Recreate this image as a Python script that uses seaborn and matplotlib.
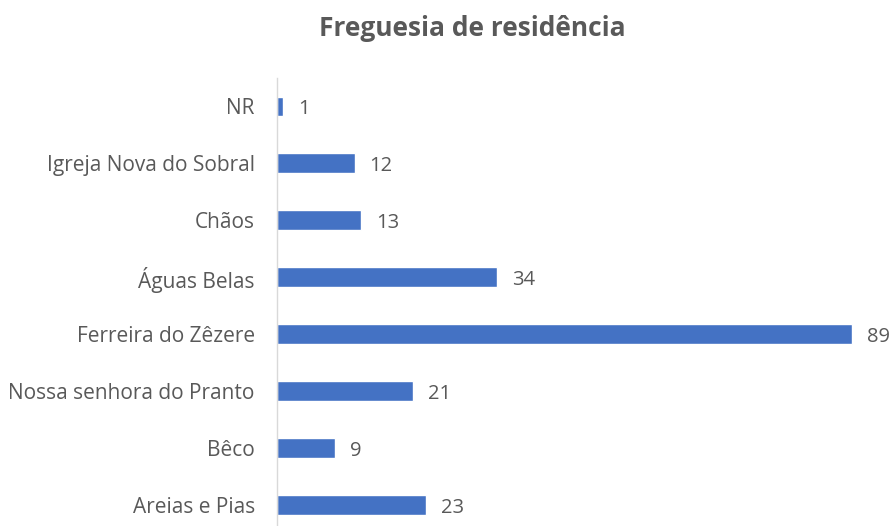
import matplotlib
matplotlib.use("Agg")
import matplotlib.pyplot as plt
import seaborn as sns
import pandas as pd

categories = ["NR", "Igreja Nova do Sobral", "Chãos", "Águas Belas",
              "Ferreira do Zêzere", "Nossa senhora do Pranto", "Bêco", "Areias e Pias"]
values = [1, 12, 13, 34, 89, 21, 9, 23]
title = "Freguesia de residência"

sns.set_theme(style="white")
plt.rcParams['font.family'] = ['Open Sans', 'DejaVu Sans']

df = pd.DataFrame({"cat": categories, "val": values})

W, H = 895, 526
fig = plt.figure(figsize=(W/100, H/100), dpi=100)
ax = fig.add_axes([277/W, 0, (891-277)/W, (526-78)/H])

sns.barplot(data=df, y="cat", x="val", orient="h", color="#4472C4",
            width=0.35, saturation=1, ax=ax)

ax.set_xlim(0, 95)
ax.set_ylim(7 + (526-505)/56.9, -0.5)
ax.set_xlabel("")
ax.set_ylabel("")
ax.set_xticks([])
for s in ["top", "right", "bottom"]:
    ax.spines[s].set_visible(False)
ax.spines["left"].set_color("#D9D9D9")
ax.spines["left"].set_linewidth(1)
ax.tick_params(axis="y", length=0, pad=16, labelsize=15, labelcolor="#595959")

for i, v in enumerate(values):
    ax.text(v + 2.3, i + 0.05, str(v), va="center", ha="left",
            fontsize=14.5, color="#595959")

fig.text(472/W, 1 - 28/H, title, ha="center", va="center", fontsize=19,
         fontweight="bold", color="#595959")

fig.savefig("out.png", dpi=100)
